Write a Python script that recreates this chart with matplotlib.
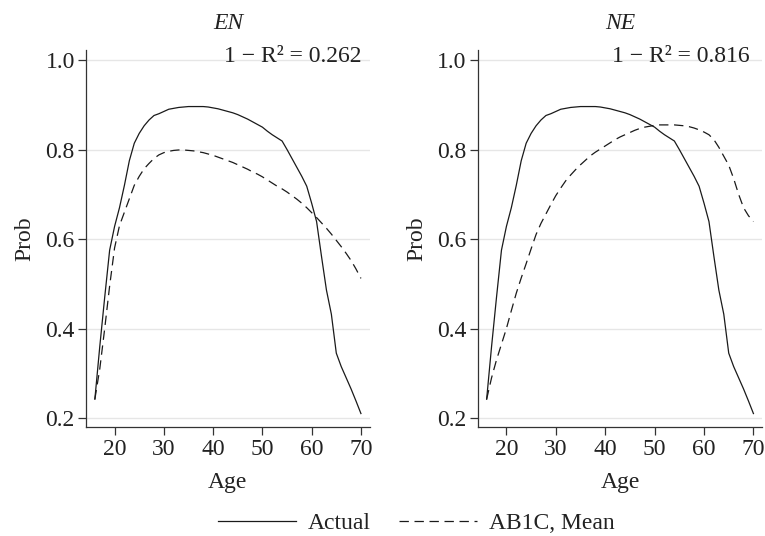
import matplotlib
matplotlib.use("Agg")
import matplotlib.pyplot as plt
import numpy as np

plt.rcParams['font.family'] = ['Liberation Serif', 'DejaVu Serif']

# data
ages = list(range(16, 71))
actual = [0.242, 0.36, 0.47, 0.575, 0.628, 0.67, 0.72, 0.775, 0.814, 0.836,
          0.853, 0.866, 0.876, 0.880, 0.885, 0.890, 0.892, 0.894, 0.895, 0.896,
          0.896, 0.896, 0.896, 0.895, 0.893, 0.891, 0.888, 0.885, 0.882, 0.878,
          0.873, 0.868, 0.862, 0.856, 0.850, 0.841, 0.833, 0.826, 0.819, 0.800,
          0.780, 0.760, 0.740, 0.718, 0.680, 0.639, 0.561, 0.486, 0.432, 0.345,
          0.315, 0.290, 0.265, 0.238, 0.210]
ab1c_en = [0.242, 0.31, 0.40, 0.495, 0.58, 0.63, 0.66, 0.69, 0.72, 0.74,
           0.757, 0.769, 0.780, 0.788, 0.793, 0.796, 0.798, 0.799, 0.799, 0.798,
           0.797, 0.795, 0.793, 0.790, 0.787, 0.783, 0.779, 0.775, 0.771, 0.766,
           0.761, 0.756, 0.750, 0.745, 0.739, 0.732, 0.725, 0.718, 0.712, 0.705,
           0.697, 0.689, 0.680, 0.670, 0.659, 0.648, 0.636, 0.624, 0.611, 0.597,
           0.583, 0.568, 0.552, 0.533, 0.512]
ab1c_ne = [0.242, 0.29, 0.33, 0.365, 0.40, 0.44, 0.479, 0.513, 0.545, 0.578,
           0.610, 0.635, 0.656, 0.677, 0.697, 0.714, 0.730, 0.743, 0.755, 0.766,
           0.776, 0.786, 0.794, 0.801, 0.808, 0.815, 0.822, 0.828, 0.833, 0.838,
           0.843, 0.847, 0.850, 0.852, 0.854, 0.855, 0.855, 0.855, 0.855, 0.854,
           0.853, 0.851, 0.848, 0.844, 0.839, 0.833, 0.822, 0.805, 0.785, 0.765,
           0.735, 0.700, 0.670, 0.652, 0.639]

panel_titles = ['EN', 'NE']
r2_labels = ['1 \u2212 R\u00b2 = 0.262', '1 \u2212 R\u00b2 = 0.816']
x_ticks = [20, 30, 40, 50, 60, 70]
y_ticks = [0.2, 0.4, 0.6, 0.8, 1.0]

fig = plt.figure(figsize=(7.65, 5.36), dpi=100)
fig.set_facecolor('white')

axes = [fig.add_axes([0.1124, 0.2034, 0.371, 0.703]),
        fig.add_axes([0.6245, 0.2034, 0.372, 0.703])]
r2_x = [0.972, 0.955]

for ax, title, r2, model, rx in zip(axes, panel_titles, r2_labels,
                                    [ab1c_en, ab1c_ne], r2_x):
    ax.plot(ages, actual, color='#1a1a1a', lw=0.9, label='Actual')
    ax.plot(ages, model, color='#1a1a1a', lw=0.9, dashes=(7.5, 4.5),
            label='AB1C, Mean')
    ax.set_xlim(14.2, 71.8)
    ax.set_ylim(0.18, 1.022)
    ax.set_xticks(x_ticks)
    ax.set_yticks(y_ticks)
    ax.set_yticklabels(['%.1f' % v for v in y_ticks])
    ax.grid(axis='y', color='#e6e6e6', lw=1.0)
    ax.set_axisbelow(True)
    for s in ['top', 'right']:
        ax.spines[s].set_visible(False)
    for s in ['left', 'bottom']:
        ax.spines[s].set_color('#333333')
        ax.spines[s].set_linewidth(0.9)
    ax.tick_params(direction='out', length=5.5, width=0.9, color='#333333',
                   labelsize=17, labelcolor='#222222')
    ax.tick_params(axis='y', pad=2.5)
    ax.tick_params(axis='x', pad=3)
    ax.set_xlabel('Age', fontsize=17, color='#222222', labelpad=9)
    ax.set_ylabel('Prob', fontsize=17, color='#222222', labelpad=7)
    ax.set_title(title, fontsize=17, style='italic', color='#222222', pad=15)
    ax.text(rx, 0.968, r2, transform=ax.transAxes, ha='right', va='baseline',
            fontsize=17, color='#222222')

handles, labels = axes[0].get_legend_handles_labels()
fig.legend(handles, labels, loc='center', bbox_to_anchor=(0.544, 0.024), ncol=2,
           frameon=False, fontsize=17, handlelength=3.3, columnspacing=1.2,
           handletextpad=0.5, labelcolor='#222222')

fig.savefig('out.png', dpi=100, facecolor='white')
